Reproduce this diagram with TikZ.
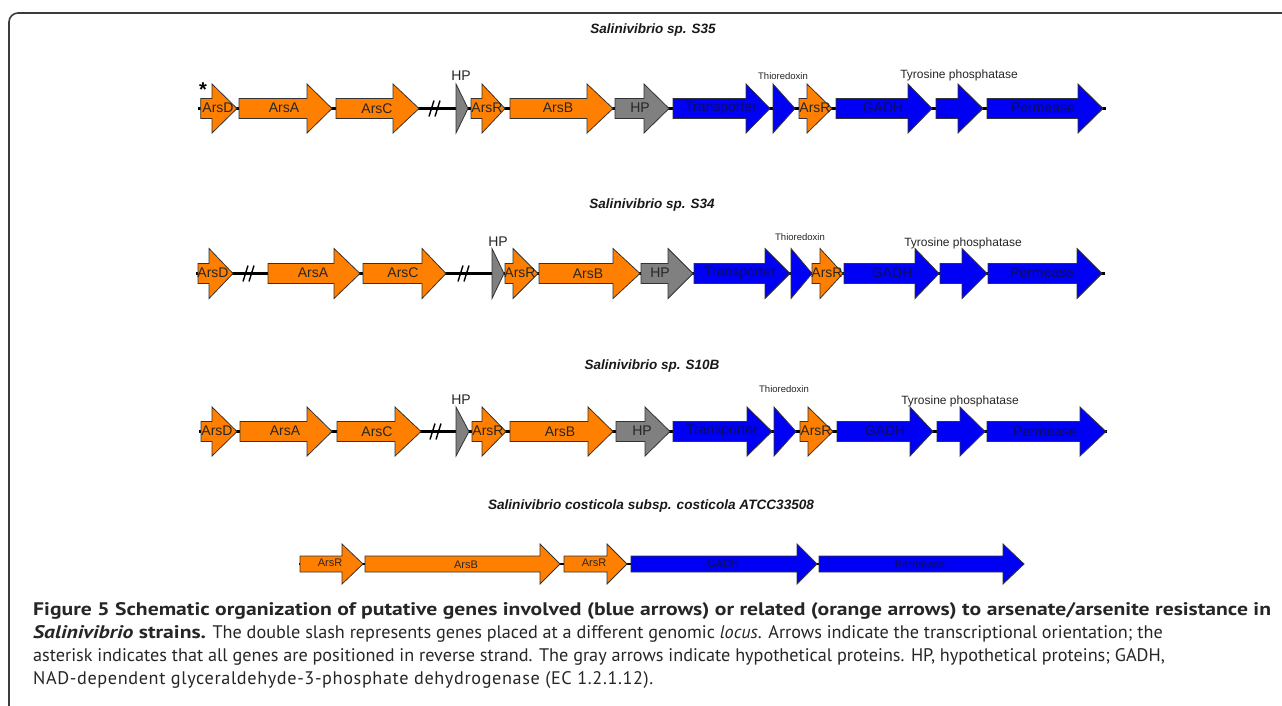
\documentclass[tikz,border=0pt]{standalone}
\usepackage{fontspec}
\setmainfont{Liberation Sans}
\newfontfamily\capfont{PT Sans}[BoldFeatures={FakeStretch=1.19},BoldItalicFeatures={FakeStretch=1.19}]
\definecolor{genorange}{RGB}{255,128,0}
\definecolor{geneblue}{RGB}{0,0,245}
\definecolor{genegray}{RGB}{128,128,128}
\definecolor{bluetext}{RGB}{12,12,95}
\definecolor{framegray}{RGB}{60,60,60}
\newcommand{\gn}[8]{% name, color, xl, xh, xt, yc, bh, hh
  \draw[genestyle,fill=#2] (#3,{#6-#7}) -- (#4,{#6-#7}) -- (#4,{#6-#8}) -- (#5,#6)
    -- (#4,{#6+#8}) -- (#4,{#6+#7}) -- (#3,{#6+#7}) -- cycle;
  \coordinate (#1) at ({(#3+#5)/2},#6);}
\newcommand{\dslash}[3]{% name, x, y
  \coordinate (#1) at (#2,#3);
  \draw[slashstyle] ({#2-7},{#3+8}) -- ({#2-2},{#3-8});
  \draw[slashstyle] ({#2-1},{#3+8}) -- ({#2+4},{#3-8});}
\begin{document}
\begin{tikzpicture}[x=1pt,y=-1pt,
  genestyle/.style={draw=black!80, line width=0.8pt, line join=miter},
  backbone/.style={draw=black, line width=2.6pt},
  slashstyle/.style={draw=black, line width=1.4pt},
  glabel/.style={font=\fontsize{14}{14}\selectfont, inner sep=0pt, text=black!85},
  blabel/.style={font=\fontsize{14}{14}\selectfont, inner sep=0pt, text=bluetext},
  slabel/.style={font=\fontsize{11}{11}\selectfont, inner sep=0pt, text=black!85},
  sblabel/.style={font=\fontsize{11}{11}\selectfont, inner sep=0pt, text=bluetext},
  title/.style={font=\fontsize{13.5}{13.5}\selectfont\bfseries\itshape, inner sep=0pt, text=black!90},
  toplabel/.style={inner sep=0pt, text=black!85},
  capline/.style={font=\capfont\fontsize{18.2}{18.2}\selectfont, anchor=base west, inner sep=0pt, text=black!85}]
\useasboundingbox (0,0) rectangle (1282,705);
\fill[white] (0,0) rectangle (1282,705);
% frame
\draw[framegray, line width=1.6pt, rounded corners=9pt] (1295,13) -- (9,13) -- (9,715);

% ---------- Row 1: S35 ----------
\node[title] (t1) at (653,30) {Salinivibrio sp. S35};
\coordinate (r1s) at (198,108.5); \coordinate (r1e) at (1106,108.5);
\draw[backbone] (r1s) -- (r1e);
\gn{a1}{genorange}{200.7}{212}{237}{108.5}{10}{24.5}
\gn{b1}{genorange}{239}{307}{332}{108.5}{10}{24.5}
\gn{c1}{genorange}{336}{393}{419}{108.5}{10}{24.5}
\gn{h1}{genegray}{456}{456}{468}{108.5}{10}{24.5}
\gn{r1}{genorange}{471}{482}{505}{108.5}{10}{24.5}
\gn{B1}{genorange}{510}{587}{613}{108.5}{10}{24.5}
\gn{H1}{genegray}{615}{644}{669}{108.5}{10}{24.5}
\gn{T1}{geneblue}{673}{746}{770}{108.5}{10}{24.5}
\gn{x1}{geneblue}{773}{773}{795}{108.5}{10}{24.5}
\gn{R1}{genorange}{799}{807}{832}{108.5}{10}{24.5}
\gn{G1}{geneblue}{836}{908}{932}{108.5}{10}{24.5}
\gn{y1}{geneblue}{936}{958}{983}{108.5}{10}{24.5}
\gn{P1}{geneblue}{987}{1078}{1103}{108.5}{10}{24.5}
\dslash{s1}{436}{108.5}
\node[glabel] at (218,108) {ArsD};
\node[glabel] at (284,108) {ArsA};
\node[glabel] at (377,109) {ArsC};
\node[glabel] at (487,108) {ArsR};
\node[glabel] at (558,108) {ArsB};
\node[glabel] at (640,108) {HP};
\node[blabel] at (721,108) {Transporter};
\node[glabel] at (815,108) {ArsR};
\node[blabel] at (883,108) {GADH};
\node[blabel] at (1043,108) {Permease};
\node[toplabel, font=\fontsize{14}{14}\selectfont] (hp1) at (461,76) {HP};
\node[toplabel, font=\fontsize{9.5}{9.5}\selectfont] (th1) at (783,76) {Thioredoxin};
\node[toplabel, font=\fontsize{12}{12}\selectfont] (ty1) at (959,75) {Tyrosine phosphatase};
\node[inner sep=0pt, font=\fontsize{20}{20}\selectfont\bfseries] (ast) at (203,90) {*};

% ---------- Row 2: S34 ----------
\node[title] (t2) at (652,205) {Salinivibrio sp. S34};
\coordinate (r2s) at (196,273.5); \coordinate (r2e) at (1105,273.5);
\draw[backbone] (r2s) -- (r2e);
\gn{a2}{genorange}{198}{209}{233}{273.5}{10}{25}
\gn{b2}{genorange}{268}{334}{360}{273.5}{10}{25}
\gn{c2}{genorange}{363}{422}{446}{273.5}{10}{25}
\gn{h2}{genegray}{492}{492}{504}{273.5}{10}{25}
\gn{r2}{genorange}{505}{513}{538}{273.5}{10}{25}
\gn{B2}{genorange}{539}{613}{640}{273.5}{10}{25}
\gn{H2}{genegray}{641}{668}{693}{273.5}{10}{25}
\gn{T2}{geneblue}{694}{765}{790}{273.5}{10}{25}
\gn{x2}{geneblue}{791}{791}{812}{273.5}{10}{25}
\gn{R2}{genorange}{812}{820}{843}{273.5}{10}{25}
\gn{G2}{geneblue}{844}{915}{939}{273.5}{10}{25}
\gn{y2}{geneblue}{940}{962}{987}{273.5}{10}{25}
\gn{P2}{geneblue}{988}{1077}{1102}{273.5}{10}{25}
\dslash{s2a}{250}{273.5}
\dslash{s2b}{465}{273.5}
\node[glabel] at (213,273) {ArsD};
\node[glabel] at (313,273) {ArsA};
\node[glabel] at (403,273) {ArsC};
\node[glabel] at (520,273) {ArsR};
\node[glabel] at (588,274) {ArsB};
\node[glabel] at (660,273) {HP};
\node[blabel] at (740,273) {Transporter};
\node[glabel] at (827,273) {ArsR};
\node[blabel] at (892,273) {GADH};
\node[blabel] at (1042,273) {Permease};
\node[toplabel, font=\fontsize{14}{14}\selectfont] (hp2) at (498,242) {HP};
\node[toplabel, font=\fontsize{9.5}{9.5}\selectfont] (th2) at (800,237) {Thioredoxin};
\node[toplabel, font=\fontsize{12}{12}\selectfont] (ty2) at (963,243) {Tyrosine phosphatase};

% ---------- Row 3: S10B ----------
\node[title] (t3) at (652,366) {Salinivibrio sp. S10B};
\coordinate (r3s) at (199,431.5); \coordinate (r3e) at (1107,431.5);
\draw[backbone] (r3s) -- (r3e);
\gn{a3}{genorange}{201}{212}{237}{431.5}{10}{24.5}
\gn{b3}{genorange}{240}{307}{332}{431.5}{10}{24.5}
\gn{c3}{genorange}{337}{395}{421}{431.5}{10}{24.5}
\gn{h3}{genegray}{456}{456}{469}{431.5}{10}{24.5}
\gn{r3}{genorange}{472}{482}{506}{431.5}{10}{24.5}
\gn{B3}{genorange}{510}{588}{613}{431.5}{10}{24.5}
\gn{H3}{genegray}{616}{645}{670}{431.5}{10}{24.5}
\gn{T3}{geneblue}{673}{747}{772}{431.5}{10}{24.5}
\gn{x3}{geneblue}{774}{774}{796}{431.5}{10}{24.5}
\gn{R3}{genorange}{800}{808}{833}{431.5}{10}{24.5}
\gn{G3}{geneblue}{837}{910}{933}{431.5}{10}{24.5}
\gn{y3}{geneblue}{937}{960}{985}{431.5}{10}{24.5}
\gn{P3}{geneblue}{987}{1080}{1106}{431.5}{10}{24.5}
\dslash{s3}{437}{431.5}
\node[glabel] at (217,431) {ArsD};
\node[glabel] at (285,431) {ArsA};
\node[glabel] at (377,432) {ArsC};
\node[glabel] at (488,431) {ArsR};
\node[glabel] at (560,432) {ArsB};
\node[glabel] at (642,431) {HP};
\node[blabel] at (722,431) {Transporter};
\node[glabel] at (816,431) {ArsR};
\node[blabel] at (885,431) {GADH};
\node[blabel] at (1045,432) {Permease};
\node[toplabel, font=\fontsize{14}{14}\selectfont] (hp3) at (461,400) {HP};
\node[toplabel, font=\fontsize{9.5}{9.5}\selectfont] (th3) at (784,389) {Thioredoxin};
\node[toplabel, font=\fontsize{12}{12}\selectfont] (ty3) at (960,401) {Tyrosine phosphatase};

% ---------- Row 4: ATCC33508 ----------
\node[title, font=\fontsize{13.6}{13.6}\selectfont\bfseries\itshape] (t4) at (651,506) {Salinivibrio costicola subsp. costicola ATCC33508};
\coordinate (r4s) at (299,564); \coordinate (r4e) at (1024,564);
\draw[backbone, line width=2pt] (r4s) -- (r4e);
\gn{r4}{genorange}{300}{342}{363}{564}{8}{20}
\gn{B4}{genorange}{365}{540}{560}{564}{8}{20}
\gn{R4}{genorange}{564}{607}{627}{564}{8}{20}
\gn{G4}{geneblue}{631}{797}{817}{564}{8}{20}
\gn{P4}{geneblue}{819}{1003}{1024}{564}{8}{20}
\node[slabel] at (330,563) {ArsR};
\node[slabel] at (466,565) {ArsB};
\node[slabel] at (594,563) {ArsR};
\node[sblabel] at (723,564) {GADH};
\node[sblabel] at (920,565) {Permease};

% ---------- Caption ----------
\node[capline] (c1) at (33,615) {\bfseries Figure 5 Schematic organization of putative genes involved (blue arrows) or related (orange arrows) to arsenate/arsenite resistance in};
\node[capline] (c2) at (33,638) {\bfseries\itshape Salinivibrio\upshape{} strains.\mdseries{} The double slash represents genes placed at a different genomic \textit{locus}. Arrows indicate the transcriptional orientation; the};
\node[capline] (c3) at (33,661) {asterisk indicates that all genes are positioned in reverse strand. The gray arrows indicate hypothetical proteins. HP, hypothetical proteins; GADH,};
\node[capline] (c4) at (33,684) {\addfontfeature{LetterSpace=3.5}NAD-dependent glyceraldehyde-3-phosphate dehydrogenase (EC 1.2.1.12).};
\end{tikzpicture}
\end{document}
